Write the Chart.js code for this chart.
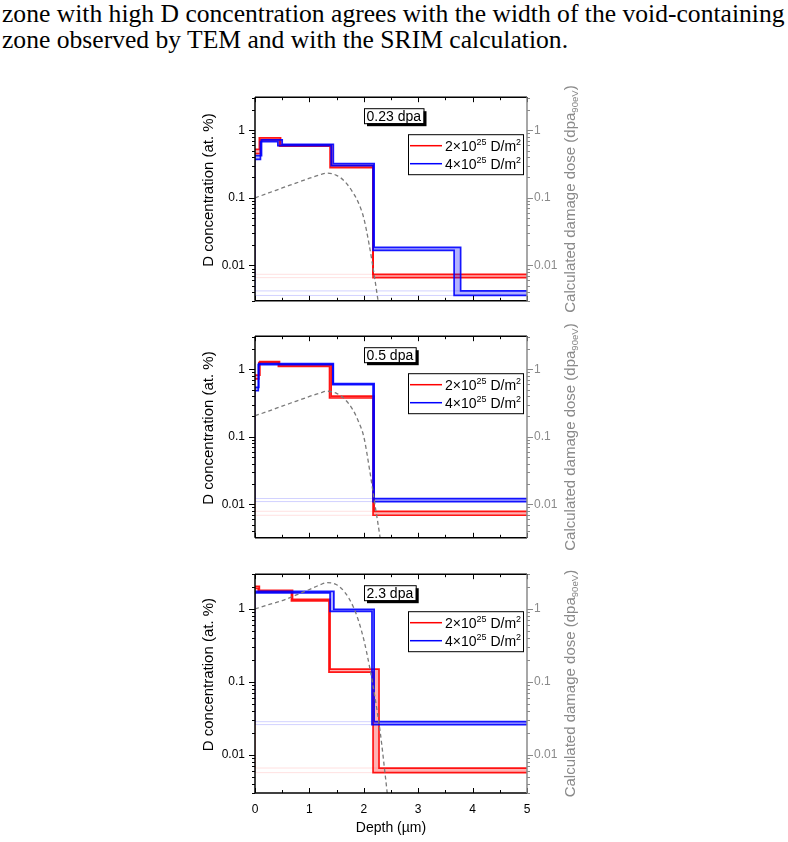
<!DOCTYPE html>
<html>
<head>
<meta charset="utf-8">
<script src="https://cdn.jsdelivr.net/npm/chart.js@4.4.0/dist/chart.umd.min.js"></script>
<style>
body { margin: 0; background: #fff; width: 788px; height: 842px; position: relative; overflow: hidden; }
#para { position: absolute; left: 2px; top: 1px; font-family: 'Liberation Serif', 'DejaVu Serif', serif; font-size: 22px; line-height: 26px; white-space: nowrap; color: #000; }
canvas { position: absolute; left: 140px; }
</style>
</head>
<body>
<div id="para"><div id="l1">zone with high D concentration agrees with the width of the void-containing</div><div>zone observed by TEM and with the SRIM calculation.</div></div>
<script>
// axes
const depthTicks = [0, 1, 2, 3, 4, 5];
const concTicks = [0.01, 0.1, 1];
const concTickLabels = ['0.01', '0.1', '1'];
const dpaTags = ['0.23 dpa', '0.5 dpa', '2.3 dpa'];
const legendLabels = [['2×10', '25', ' D/m', '2'], ['4×10', '25', ' D/m', '2']];

// 0.23 dpa panel - step profiles, upper / lower bound
const p1RedHiX = [0, 0.08, 0.47, 1.41, 2.17, 5];
const p1RedHiY = [0.52, 0.77, 0.61, 0.30, 0.0074];
const p1RedLoX = [0, 0.10, 0.45, 1.38, 2.17, 5];
const p1RedLoY = [0.45, 0.72, 0.58, 0.28, 0.0066];
const p1BlueHiX = [0, 0.12, 0.50, 1.44, 2.19, 3.78, 5];
const p1BlueHiY = [0.42, 0.72, 0.62, 0.32, 0.0185, 0.0042];
const p1BlueLoX = [0, 0.10, 0.42, 1.40, 2.17, 3.66, 5];
const p1BlueLoY = [0.37, 0.68, 0.59, 0.30, 0.0167, 0.0036];

// 0.5 dpa panel
const p2RedHiX = [0, 0.09, 0.45, 1.40, 2.19, 5];
const p2RedHiY = [0.82, 1.30, 1.16, 0.40, 0.0079];
const p2RedLoX = [0, 0.07, 0.43, 1.37, 2.17, 5];
const p2RedLoY = [0.72, 1.25, 1.10, 0.375, 0.0069];
const p2BlueHiX = [0, 0.07, 1.44, 2.19, 5];
const p2BlueHiY = [0.54, 1.21, 0.61, 0.0122];
const p2BlueLoX = [0, 0.06, 1.43, 2.17, 5];
const p2BlueLoY = [0.48, 1.17, 0.59, 0.0110];

// 2.3 dpa panel
const p3RedHiX = [0, 0.08, 0.69, 1.38, 2.28, 5];
const p3RedHiY = [2.05, 1.80, 1.36, 0.150, 0.0066];
const p3RedLoX = [0, 0.06, 0.67, 1.36, 2.17, 5];
const p3RedLoY = [1.92, 1.72, 1.29, 0.136, 0.0057];
const p3BlueHiX = [0, 1.45, 2.19, 5];
const p3BlueHiY = [1.74, 0.99, 0.0285];
const p3BlueLoX = [0, 1.38, 2.15, 5];
const p3BlueLoY = [1.66, 0.93, 0.0260];

// SRIM damage dose (right axis)
const dpaX = [0, 0.25, 0.5, 0.75, 1.0, 1.2, 1.32, 1.5, 1.65, 1.8, 1.9, 2.0, 2.1, 2.2, 2.3, 2.4, 2.45];
const p1Dpa = [0.100, 0.118, 0.140, 0.165, 0.195, 0.220, 0.232, 0.215, 0.175, 0.120, 0.085, 0.050, 0.020, 0.0065, 0.0018, 0.0004, 0.0002];
const p2Dpa = [0.205, 0.240, 0.285, 0.335, 0.395, 0.445, 0.472, 0.440, 0.360, 0.250, 0.170, 0.100, 0.035, 0.0105, 0.0032, 0.0008, 0.0004];
const p3Dpa = [1.00, 1.15, 1.30, 1.55, 1.85, 2.15, 2.30, 2.15, 1.70, 1.10, 0.70, 0.38, 0.17, 0.065, 0.021, 0.0048, 0.0022];

// fit the paragraph to the page width
const para = document.getElementById('para');
const l1 = document.getElementById('l1');
const w0 = l1.getBoundingClientRect().width;
para.style.fontSize = (22 * 783 / w0) + 'px';

Chart.defaults.font.family = "'Liberation Sans', Arial, sans-serif";

function stepPts(xs, ys) {
    const pts = [{x: xs[0], y: ys[0]}];
    for (let i = 1; i < xs.length; i++) {
        pts.push({x: xs[i], y: ys[i - 1]});
        if (i < ys.length) pts.push({x: xs[i], y: ys[i]});
    }
    return pts;
}
// faint outline that closes each profile along the bottom
function palePts(xs, ys) {
    const last = ys[ys.length - 1];
    return [{x: xs[0], y: ys[0]}, {x: xs[0], y: last}, {x: xs[xs.length - 1], y: last}];
}

function richWidth(ctx, parts, size) {
    let w = 0;
    parts.forEach(p => {
        ctx.font = (p.s ? size * 0.64 : size) + "px 'Liberation Sans', Arial";
        w += ctx.measureText(p.t).width;
    });
    return w;
}
function drawRich(ctx, parts, x, y, size) {
    ctx.textBaseline = 'alphabetic';
    ctx.textAlign = 'left';
    parts.forEach(p => {
        ctx.font = (p.s ? size * 0.64 : size) + "px 'Liberation Sans', Arial";
        const dy = p.s === 'sup' ? -size * 0.38 : (p.s === 'sub' ? size * 0.2 : 0);
        ctx.fillText(p.t, x, y + dy);
        x += ctx.measureText(p.t).width;
    });
}

const deco = {
    id: 'deco',
    afterDraw(chart, args, o) {
        const {ctx, chartArea: a, scales} = chart;
        const sx = scales.x, sy = scales.y;
        const line = (x1, y1, x2, y2) => { ctx.beginPath(); ctx.moveTo(x1, y1); ctx.lineTo(x2, y2); ctx.stroke(); };
        // canvas sits 140px right of the page edge
        const ox = -140;
        ctx.save();
        ctx.lineWidth = 1;
        for (let d = -3; d <= 0; d++) {
            for (let k = 1; k <= 9; k++) {
                const v = k * Math.pow(10, d);
                if (v < sy.min * 0.999 || v > sy.max) continue;
                const y = Math.round(sy.getPixelForValue(v)) + 0.5;
                const len = k === 1 ? 6 : 3;
                ctx.strokeStyle = '#000';
                line(a.left - len, y, a.left, y);
                ctx.strokeStyle = '#8a8a8a';
                line(a.right, y, a.right + len, y);
            }
        }
        ctx.strokeStyle = '#000';
        for (let i = 0; i < depthTicks.length; i++) {
            const xs = [depthTicks[i]];
            if (i < depthTicks.length - 1) xs.push((depthTicks[i] + depthTicks[i + 1]) / 2);
            xs.forEach((v, j) => {
                const x = Math.round(sx.getPixelForValue(v)) + 0.5;
                const len = j === 0 ? 5 : 3;
                line(x, a.bottom, x, a.bottom - len);
                line(x, a.top, x, a.top + len);
            });
        }
        // frame
        ctx.lineWidth = 1.5;
        ctx.strokeStyle = '#000';
        line(a.left, a.top, a.right, a.top);
        line(a.left, a.top, a.left, a.bottom);
        line(a.left, a.bottom, a.right, a.bottom);
        ctx.strokeStyle = '#8a8a8a';
        line(a.right, a.top, a.right, a.bottom);

        // dpa tag with shadow
        ctx.font = "14px 'Liberation Sans', Arial";
        const tw = ctx.measureText(o.tag).width;
        const bx = 364 + ox, by = a.top + 11, bw = tw + 5, bh = 15;
        ctx.fillStyle = '#000';
        ctx.fillRect(bx + 3, by + 3, bw, bh);
        ctx.fillStyle = '#fff';
        ctx.fillRect(bx, by, bw, bh);
        ctx.strokeStyle = '#000';
        ctx.lineWidth = 1;
        ctx.strokeRect(bx + 0.5, by + 0.5, bw, bh);
        ctx.fillStyle = '#000';
        ctx.textBaseline = 'alphabetic';
        ctx.fillText(o.tag, bx + 2.5, by + 13);

        // legend
        const lx = 408 + ox, ly = a.top + 37, lw = 115, lh = 40;
        ctx.fillStyle = '#fff';
        ctx.fillRect(lx, ly, lw, lh);
        ctx.strokeRect(lx + 0.5, ly + 0.5, lw, lh);
        ['#ff0000', '#0000ff'].forEach((c, i) => {
            const ry = ly + 11.5 + i * 18;
            ctx.strokeStyle = c;
            ctx.lineWidth = 1.5;
            line(lx + 2, ry, lx + 34, ry);
            ctx.fillStyle = '#000';
            const lab = legendLabels[i];
            drawRich(ctx, [{t: lab[0]}, {t: lab[1], s: 'sup'}, {t: lab[2]}, {t: lab[3], s: 'sup'}], lx + 37, ry + 5, 14);
        });

        // axis titles
        const midY = (a.top + a.bottom) / 2;
        ctx.save();
        ctx.translate(209 + ox, midY - 9);
        ctx.rotate(-Math.PI / 2);
        ctx.fillStyle = '#000';
        ctx.font = "15px 'Liberation Sans', Arial";
        ctx.textAlign = 'center';
        ctx.textBaseline = 'middle';
        ctx.fillText('D concentration (at. %)', 0, 0);
        ctx.restore();

        ctx.save();
        ctx.translate(570 + ox, midY);
        ctx.rotate(-Math.PI / 2);
        ctx.fillStyle = '#8a8a8a';
        const rt = [{t: 'Calculated damage dose (dpa'}, {t: '90eV', s: 'sub'}, {t: ')'}];
        const rw = richWidth(ctx, rt, 15);
        drawRich(ctx, rt, -rw / 2, 5, 15);
        ctx.restore();

        if (o.xTitle) {
            ctx.fillStyle = '#000';
            ctx.font = "14px 'Liberation Sans', Arial";
            ctx.textAlign = 'center';
            ctx.textBaseline = 'middle';
            ctx.fillText(o.xTitle, (a.left + a.right) / 2, a.bottom + 35);
        }
        ctx.restore();
    }
};

const panels = [
    {top: 90, bottom: 316, ymin: 0.003, ymax: 3.08, extra: 2, tag: dpaTags[0], dpa: p1Dpa,
     red: [p1RedHiX, p1RedHiY, p1RedLoX, p1RedLoY], blue: [p1BlueHiX, p1BlueHiY, p1BlueLoX, p1BlueLoY]},
    {top: 329, bottom: 553, ymin: 0.0032, ymax: 3.08, extra: 2, tag: dpaTags[1], dpa: p2Dpa,
     red: [p2RedHiX, p2RedHiY, p2RedLoX, p2RedLoY], blue: [p2BlueHiX, p2BlueHiY, p2BlueLoX, p2BlueLoY]},
    {top: 567, bottom: 793, ymin: 0.003, ymax: 3.0, extra: 45, tag: dpaTags[2], dpa: p3Dpa, xTitle: 'Depth (µm)',
     red: [p3RedHiX, p3RedHiY, p3RedLoX, p3RedLoY], blue: [p3BlueHiX, p3BlueHiY, p3BlueLoX, p3BlueLoY]}
];

panels.forEach((p, idx) => {
    const cv = document.createElement('canvas');
    cv.width = 500;
    cv.height = (p.bottom - p.top) + 10 + p.extra;
    cv.style.top = (p.top - 10) + 'px';
    document.body.appendChild(cv);

    // fill: band between this (upper) line and the lower line just before it
    const lineDs = (pts, color, width, fill) => ({
        data: pts, borderColor: color, borderWidth: width, pointRadius: 0,
        fill: fill ? '-1' : false, backgroundColor: fill || 'transparent', tension: 0
    });
    const [rhx, rhy, rlx, rly] = p.red;
    const [bhx, bhy, blx, bly] = p.blue;

    // index 0 is drawn on top
    const datasets = [
        {data: dpaX.map((x, i) => ({x: x, y: p.dpa[i]})), yAxisID: 'y2', borderColor: '#7a7a7a',
         borderWidth: 1.3, borderDash: [4, 3], pointRadius: 0, cubicInterpolationMode: 'monotone', fill: false},
        lineDs(stepPts(blx, bly), 'rgba(0,0,255,0.9)', 1.7, false),
        lineDs(stepPts(bhx, bhy), 'rgba(0,0,255,0.9)', 1.7, 'rgba(0,0,255,0.3)'),
        lineDs(stepPts(rlx, rly), 'rgba(255,0,0,0.9)', 1.7, false),
        lineDs(stepPts(rhx, rhy), 'rgba(255,0,0,0.9)', 1.7, 'rgba(255,0,0,0.3)'),
        lineDs(palePts(blx, bly), 'rgba(0,0,255,0.18)', 1, false),
        lineDs(palePts(bhx, bhy), 'rgba(0,0,255,0.18)', 1, false),
        lineDs(palePts(rlx, rly), 'rgba(255,0,0,0.12)', 1, false),
        lineDs(palePts(rhx, rhy), 'rgba(255,0,0,0.12)', 1, false)
    ];

    const logAxis = (pos, color, pad, width) => ({
        type: 'logarithmic', position: pos, min: p.ymin, max: p.ymax,
        grid: {display: false, drawTicks: false}, border: {display: false},
        afterBuildTicks: s => { s.ticks = concTicks.map(v => ({value: v})); },
        afterFit: s => { s.width = width; },
        ticks: {color: color, padding: pad, font: {size: 12},
                callback: v => concTickLabels[concTicks.indexOf(v)]}
    });

    new Chart(cv.getContext('2d'), {
        type: 'line',
        data: {datasets: datasets},
        options: {
            responsive: false, animation: false, devicePixelRatio: 1,
            layout: {padding: {top: 10, left: 0, right: 0, bottom: 0}},
            plugins: {legend: {display: false}, tooltip: {enabled: false},
                      deco: {tag: p.tag, xTitle: p.xTitle}},
            scales: {
                x: {type: 'linear', min: 0, max: 5,
                    grid: {display: false, drawTicks: false}, border: {display: false},
                    afterBuildTicks: s => { s.ticks = depthTicks.map(v => ({value: v})); },
                    afterFit: s => { s.height = p.extra; },
                    ticks: {display: !!p.xTitle, padding: 9, color: '#000', font: {size: 12}}},
                y: logAxis('left', '#000', 10, 115),
                y2: logAxis('right', '#8a8a8a', 7, 113)
            }
        },
        plugins: [deco]
    });
});
</script>
</body>
</html>
